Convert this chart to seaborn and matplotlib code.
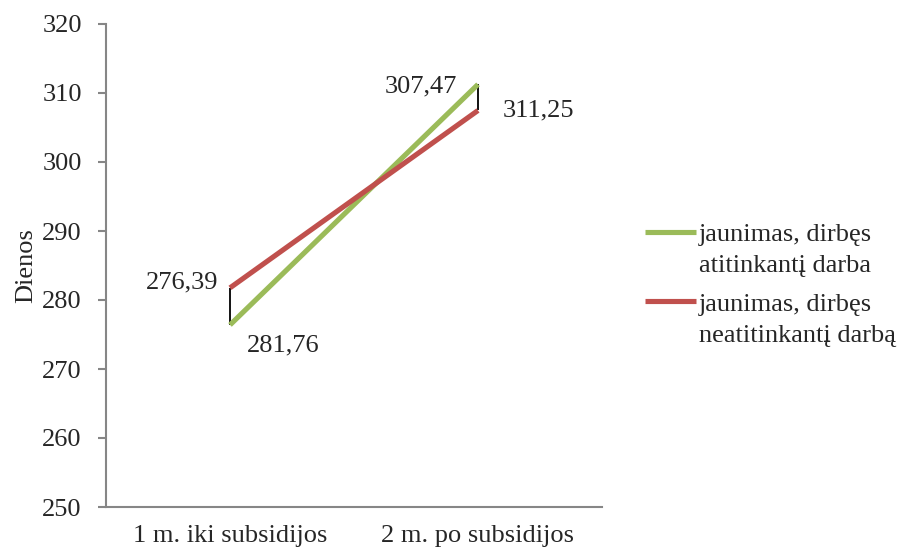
import matplotlib
matplotlib.use("Agg")
import matplotlib.pyplot as plt
import seaborn as sns
import pandas as pd

categories = ["1 m. iki subsidijos", "2 m. po subsidijos"]
series_first = ["jaunimas, dirbęs", "jaunimas, dirbęs"]
series_second = ["atitinkantį darba", "neatitinkantį darbą"]
green_values = [276.39, 311.25]
red_values = [281.76, 307.47]
label_texts = ["276,39", "281,76", "307,47", "311,25"]
y_ticks = [250, 260, 270, 280, 290, 300, 310, 320]

sns.set_style("white")
plt.rcParams["font.family"] = ["Liberation Serif", "DejaVu Serif"]

names = [a + " " + b for a, b in zip(series_first, series_second)]
df = pd.DataFrame({
    "cat": list(range(len(categories))) * 2,
    "value": green_values + red_values,
    "series": [names[0]] * 2 + [names[1]] * 2,
})

W, H = 904, 554
fig = plt.figure(figsize=(W / 100, H / 100), dpi=100)
ax = fig.add_axes([106 / W, 1 - 507 / H, (602 - 106) / W, (507 - 24) / H])

palette = {names[0]: "#9BBB59", names[1]: "#C0504D"}
sns.lineplot(data=df, x="cat", y="value", hue="series", palette=palette,
             linewidth=3.7, ax=ax, legend=True, solid_capstyle="butt")

# high-low lines
xs = list(range(len(categories)))
ax.vlines(xs, [min(g, r) for g, r in zip(green_values, red_values)],
          [max(g, r) for g, r in zip(green_values, red_values)],
          colors="black", linewidth=1.3, zorder=1)

fs = 19
# data labels (placed as in the original)
ax.annotate(label_texts[0], (0, red_values[0]), xytext=(-12, 5), textcoords="offset pixels",
            ha="right", va="center", fontsize=fs)
ax.annotate(label_texts[1], (0, green_values[0]), xytext=(17, -21), textcoords="offset pixels",
            ha="left", va="center", fontsize=fs)
ax.annotate(label_texts[2], (1, green_values[1]), xytext=(-21, -2), textcoords="offset pixels",
            ha="right", va="center", fontsize=fs)
ax.annotate(label_texts[3], (1, red_values[1]), xytext=(25, 0), textcoords="offset pixels",
            ha="left", va="center", fontsize=fs)

ax.set_xlim(-0.5, 1.5)
ax.set_ylim(250, 320)
ax.set_yticks(y_ticks)
ax.set_yticklabels([str(t) for t in y_ticks], fontsize=fs)
ax.set_xticks(xs)
ax.set_xticklabels(categories, fontsize=fs)
ax.set_xlabel("")
ax.set_ylabel("Dienos", fontsize=fs, labelpad=3.5)

for s in ["top", "right"]:
    ax.spines[s].set_visible(False)
for s in ["left", "bottom"]:
    ax.spines[s].set_color("#868686")
    ax.spines[s].set_linewidth(1.5)
ax.tick_params(axis="y", which="major", length=6, width=1.5, color="#868686", left=True, pad=11.5)
ax.tick_params(axis="x", length=0, pad=13)

handles, _ = ax.get_legend_handles_labels()
leg = ax.legend(handles, series_first, loc="upper left", bbox_to_anchor=(645 / W, 1 - 223 / H),
                bbox_transform=fig.transFigure, frameon=False, fontsize=fs,
                handlelength=1.92, handletextpad=0.12, labelspacing=1.73,
                borderpad=0, borderaxespad=0)
for t, second in zip(leg.texts, series_second):
    ax.annotate(second, xy=(0, 0.5), xycoords=t, xytext=(0, -31), textcoords="offset pixels",
                ha="left", va="center", fontsize=fs, annotation_clip=False, zorder=10)

fig.savefig("out.png", dpi=100)
